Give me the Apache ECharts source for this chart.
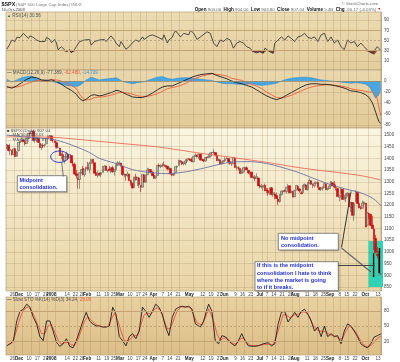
<!DOCTYPE html>
<html><head><meta charset="utf-8">
<script src="https://cdn.jsdelivr.net/npm/echarts/dist/echarts.min.js"></script>
<style>html,body{margin:0;padding:0;background:#fff}#c{width:400px;height:362px}</style>
</head><body><div id="c"></div><script>
// ---------- DATA ----------
const monthDays = [
 ['2007-11',[16,19,20,21,23,26,27,28,29,30]],
 ['2007-12',[3,4,5,6,7,10,11,12,13,14,17,18,19,20,21,24,26,27,28,31]],
 ['2008-01',[2,3,4,7,8,9,10,11,14,15,16,17,18,22,23,24,25,28,29,30,31]],
 ['2008-02',[1,4,5,6,7,8,11,12,13,14,15,19,20,21,22,25,26,27,28,29]],
 ['2008-03',[3,4,5,6,7,10,11,12,13,14,17,18,19,20,24,25,26,27,28,31]],
 ['2008-04',[1,2,3,4,7,8,9,10,11,14,15,16,17,18,21,22,23,24,25,28,29,30]],
 ['2008-05',[1,2,5,6,7,8,9,12,13,14,15,16,19,20,21,22,23,27,28,29,30]],
 ['2008-06',[2,3,4,5,6,9,10,11,12,13,16,17,18,19,20,23,24,25,26,27,30]],
 ['2008-07',[1,2,3,7,8,9,10,11,14,15,16,17,18,21,22,23,24,25,28,29,30,31]],
 ['2008-08',[1,4,5,6,7,8,11,12,13,14,15,18,19,20,21,22,25,26,27,28,29]],
 ['2008-09',[2,3,4,5,8,9,10,11,12,15,16,17,18,19,22,23,24,25,26,29,30]],
 ['2008-10',[1,2,3,6,7,8,9,10]]
];
const xTicks = [['2007-11-26','26'],['2007-12-03','Dec'],['2007-12-10','10'],['2007-12-17','17'],['2007-12-24','24'],['2008-01-02','2008'],['2008-01-14','14'],['2008-01-22','22'],['2008-01-28','28'],['2008-02-01','Feb'],['2008-02-11','11'],['2008-02-19','19'],['2008-02-25','25'],['2008-03-03','Mar'],['2008-03-10','10'],['2008-03-17','17'],['2008-03-24','24'],['2008-04-01','Apr'],['2008-04-07','7'],['2008-04-14','14'],['2008-04-21','21'],['2008-05-01','May'],['2008-05-12','12'],['2008-05-19','19'],['2008-05-27','27'],['2008-06-02','Jun'],['2008-06-09','9'],['2008-06-16','16'],['2008-06-23','23'],['2008-07-01','Jul'],['2008-07-07','7'],['2008-07-14','14'],['2008-07-21','21'],['2008-07-28','28'],['2008-08-01','Aug'],['2008-08-11','11'],['2008-08-18','18'],['2008-08-25','25'],['2008-09-02','Sep'],['2008-09-08','8'],['2008-09-15','15'],['2008-09-22','22'],['2008-10-01','Oct'],['2008-10-10','13']];

// [open, close, low, high]
const ohlc = [
[1451,1458.7,1439,1462],[1456,1433.3,1430,1456],[1434,1439.7,1415,1463],[1435,1416.8,1412,1436],[1417,1440.7,1417,1441],[1441,1407.2,1406,1446],[1409,1428.2,1407,1431],[1433,1469.0,1430,1470],[1467,1469.7,1458,1474],[1471,1481.1,1470,1488],
[1479,1472.4,1469,1482],[1471,1462.8,1455,1471],[1463,1485.0,1463,1486],[1485,1507.3,1483,1508],[1508,1504.7,1500,1511],[1505,1516.0,1505,1518],[1516,1477.7,1472,1523],[1478,1486.6,1467,1511],[1483,1488.4,1469,1489],[1486,1468.0,1467,1487],[1465,1445.9,1445,1465],[1446,1455.0,1435,1461],[1455,1453.0,1445,1464],[1456,1460.1,1447,1461],[1463,1484.5,1463,1485],[1485,1496.5,1485,1497],[1495,1497.7,1488,1499],[1496,1476.3,1476,1499],[1479,1478.5,1467,1488],[1475,1468.4,1465,1475],
[1467,1447.2,1442,1472],[1447,1447.2,1443,1456],[1444,1411.6,1411,1444],[1415,1416.2,1396,1424],[1416,1390.2,1389,1431],[1390,1409.1,1378,1409],[1406,1420.3,1398,1429],[1419,1401.0,1392,1419],[1402,1416.3,1402,1418],[1412,1381.0,1380,1412],[1377,1373.2,1364,1391],[1374,1333.3,1330,1382],[1334,1325.2,1313,1351],[1312,1310.5,1271,1322],[1310,1338.6,1270,1339],[1340,1352.1,1333,1355],[1357,1330.6,1327,1368],[1331,1354.0,1322,1354],[1355,1362.3,1350,1365],[1362,1355.8,1348,1385],[1352,1378.6,1335,1385],
[1378,1395.4,1378,1396],[1396,1380.8,1379,1396],[1381,1336.6,1336,1381],[1339,1326.5,1325,1351],[1326,1336.9,1317,1347],[1336,1331.3,1325,1341],[1331,1339.1,1320,1341],[1340,1348.9,1339,1368],[1350,1367.2,1350,1370],[1367,1348.9,1347,1369],[1347,1350.0,1339,1351],[1355,1348.8,1344,1368],[1348,1360.0,1336,1363],[1360,1342.5,1339,1368],[1343,1353.1,1326,1354],[1353,1371.8,1350,1374],[1371,1381.3,1368,1388],[1377,1380.0,1370,1388],[1380,1367.7,1365,1380],[1367,1330.6,1326,1367],
[1330,1331.3,1320,1336],[1331,1326.8,1305,1331],[1327,1333.7,1318,1344],[1333,1304.3,1303,1333],[1304,1293.4,1283,1309],[1294,1273.4,1272,1296],[1275,1320.7,1275,1321],[1321,1308.8,1305,1334],[1308,1315.5,1282,1321],[1316,1288.1,1274,1321],[1283,1276.6,1256,1287],[1277,1330.7,1277,1331],[1330,1298.4,1298,1331],[1299,1329.5,1295,1330],[1330,1349.9,1330,1360],[1350,1353.0,1341,1358],[1352,1341.1,1336,1352],[1341,1325.8,1325,1345],[1327,1315.2,1312,1334],[1316,1322.7,1312,1328],
[1327,1370.2,1327,1370],[1370,1367.5,1362,1378],[1365,1369.3,1358,1375],[1369,1370.4,1362,1380],[1373,1372.5,1370,1386],[1370,1365.5,1360,1370],[1365,1354.5,1349,1368],[1355,1360.6,1350,1367],[1357,1332.8,1332,1357],[1332,1328.3,1324,1335],[1328,1334.4,1324,1337],[1338,1364.7,1338,1365],[1363,1365.6,1359,1369],[1369,1390.3,1369,1395],[1389,1388.2,1381,1390],[1386,1375.9,1371,1386],[1376,1379.9,1370,1387],[1380,1388.8,1371,1397],[1388,1397.8,1380,1398],[1398,1396.4,1394,1402],[1396,1390.9,1387,1397],[1391,1385.6,1384,1404],
[1386,1409.3,1383,1410],[1410,1413.9,1406,1422],[1414,1407.5,1404,1415],[1406,1418.3,1397,1421],[1418,1392.6,1391,1420],[1393,1397.7,1391,1404],[1395,1388.3,1384,1395],[1389,1403.6,1386,1404],[1404,1403.0,1396,1407],[1404,1408.7,1403,1420],[1409,1423.6,1404,1424],[1424,1425.4,1418,1426],[1425,1426.6,1419,1440],[1425,1413.4,1408,1425],[1414,1390.7,1388,1420],[1391,1394.4,1388,1401],[1394,1375.9,1373,1394],[1376,1385.4,1374,1387],[1386,1390.8,1381,1392],[1390,1398.3,1388,1405],[1399,1400.4,1396,1404],
[1399,1385.7,1377,1400],[1386,1377.7,1373,1394],[1377,1377.2,1367,1386],[1377,1404.1,1377,1405],[1401,1360.7,1359,1401],[1361,1361.8,1350,1370],[1359,1358.4,1348,1366],[1357,1335.5,1334,1358],[1336,1339.9,1334,1353],[1341,1360.0,1341,1361],[1358,1360.1,1349,1364],[1360,1350.9,1350,1366],[1349,1337.8,1333,1349],[1336,1342.8,1327,1347],[1341,1317.9,1316,1341],[1318,1318.0,1312,1326],[1317,1314.3,1304,1328],[1315,1322.0,1313,1336],[1316,1283.2,1283,1316],[1283,1278.4,1272,1288],[1279,1280.0,1272,1290],
[1276,1284.9,1262,1285],[1285,1261.5,1261,1292],[1263,1262.9,1252,1272],[1263,1252.3,1240,1273],[1251,1273.7,1245,1275],[1274,1244.7,1244,1278],[1245,1253.4,1236,1257],[1248,1239.5,1225,1255],[1241,1228.3,1227,1254],[1226,1214.9,1200,1235],[1215,1245.4,1211,1246],[1246,1260.3,1240,1262],[1258,1260.7,1251,1263],[1261,1260.0,1255,1267],[1257,1277.0,1250,1278],[1278,1282.2,1271,1291],[1283,1252.5,1251,1283],[1253,1257.8,1252,1263],[1258,1234.4,1234,1260],[1236,1263.2,1234,1263],[1264,1284.3,1264,1285],[1280,1267.4,1267,1284],
[1269,1260.3,1254,1271],[1253,1249.0,1247,1260],[1254,1284.9,1254,1285],[1283,1289.2,1275,1292],[1286,1266.1,1264,1286],[1266,1296.3,1262,1297],[1294,1305.3,1290,1314],[1304,1289.6,1286,1304],[1288,1285.8,1274,1293],[1283,1292.9,1276,1301],[1293,1298.2,1292,1301],[1298,1278.6,1274,1301],[1276,1266.7,1263,1276],[1268,1274.5,1261,1277],[1271,1277.7,1262,1280],[1277,1292.2,1277,1294],[1290,1266.8,1264,1290],[1267,1271.5,1262,1275],[1271,1281.7,1270,1289],[1283,1300.7,1283,1301],[1296,1282.8,1282,1297],
[1287,1277.6,1272,1303],[1276,1275.0,1262,1281],[1271,1236.8,1236,1272],[1233,1242.3,1217,1244],[1250,1267.8,1250,1275],[1268,1224.5,1224,1268],[1228,1232.0,1220,1244],[1230,1249.1,1213,1249],[1245,1251.7,1236,1255],[1250,1192.7,1192,1250],[1188,1213.6,1170,1214],[1211,1156.4,1156,1211],[1157,1206.5,1133,1211],[1214,1255.1,1214,1265],[1255,1207.1,1207,1255],[1207,1188.2,1187,1214],[1189,1185.9,1180,1197],[1187,1209.2,1187,1220],[1204,1213.3,1197,1216],[1209,1106.4,1106,1209],[1114,1166.4,1114,1171],
[1164,1161.1,1141,1167],[1161,1114.3,1111,1161],[1115,1099.2,1098,1154],[1098,1056.9,1008,1098],[1058,996.2,996,1073],[989,984.9,971,1021],[988,909.9,909,1005],[904,907.04,903.8,908]
];

// moving averages, read at points [dayIndex, value]
const ma50 = [[0,1500],[10,1492],[20,1487],[30,1478],[40,1455],[50,1425],[56,1400],[65,1380],[76,1352],[86,1340],[96,1335],[106,1340],[117,1355],[127,1372],[137,1385],[147,1386],[157,1378],[167,1360],[177,1338],[187,1310],[197,1285],[207,1265],[213,1255],[219,1238],[223,1220],[226,1198]];
const ma200 = [[0,1492],[15,1492],[30,1489],[45,1480],[60,1470],[75,1460],[90,1450],[105,1435],[117,1422],[130,1410],[140,1400],[157,1383],[177,1360],[190,1348],[200,1340],[215,1325],[226,1308]];

const rsi = [[0,33],[2,44],[3,51],[5,48],[6,56],[8,56],[10,64],[11,61],[13,54],[14,59],[16,56],[18,51],[20,48],[21,51],[23,48],[24,56],[26,52],[27,46],[29,52],[30,45],[31,32],[33,38],[34,35],[36,28],[38,32],[39,26],[41,33],[42,38],[44,48],[45,45],[47,51],[48,54],[50,52],[51,41],[53,48],[54,46],[56,51],[57,50],[59,52],[60,48],[61,51],[63,59],[65,51],[66,45],[68,38],[69,48],[70,51],[72,33],[73,31],[74,38],[76,46],[78,51],[80,48],[82,57],[83,52],[84,54],[86,59],[88,61],[89,64],[91,57],[92,59],[94,52],[95,61],[97,45],[98,51],[100,56],[101,64],[102,69],[104,61],[105,57],[107,64],[108,67],[110,61],[111,70],[113,64],[115,52],[117,57],[121,67],[123,64],[125,45],[127,38],[129,51],[131,48],[133,54],[135,51],[137,35],[139,45],[141,48],[143,45],[145,38],[147,35],[149,28],[151,26],[153,28],[155,25],[156,35],[157,32],[159,28],[161,25],[162,45],[164,51],[166,57],[168,51],[170,59],[172,54],[174,48],[176,57],[178,59],[180,64],[182,56],[184,54],[186,57],[188,48],[190,61],[192,64],[194,48],[196,57],[198,45],[200,51],[202,38],[204,32],[206,51],[208,45],[210,48],[212,38],[214,45],[216,38],[219,28],[221,25],[222,22],[224,38],[226,30.56]];

const macd = [[0,-10],[3,-13],[6,-9],[9,-3],[12,3],[15,7],[18,6],[21,2],[24,1],[27,2],[30,-1],[33,-6],[36,-12],[39,-17],[42,-24],[44,-32],[46,-36],[48,-33],[51,-26],[53,-25],[56,-27],[58,-26],[61,-23],[64,-20],[66,-17],[68,-18],[70,-21],[73,-25],[76,-29],[79,-30],[82,-30],[85,-27],[88,-22],[91,-16],[94,-11],[97,-9],[100,-9],[103,-5],[106,-1],[109,3],[112,7],[115,10],[118,12],[121,13],[124,14],[127,10],[130,7],[133,4],[136,0],[139,-3],[142,-5],[145,-8],[148,-11],[151,-16],[154,-22],[157,-27],[160,-31],[163,-34],[166,-31],[169,-26],[172,-21],[175,-16],[178,-11],[181,-7],[184,-5],[187,-5],[190,-6],[193,-6],[196,-7],[199,-9],[202,-11],[205,-14],[208,-18],[211,-19],[214,-21],[217,-25],[219,-30],[220,-35],[221,-40],[222,-48],[223,-57],[224,-66],[225,-74],[226,-77.389]];
const macdSignal = [[0,-12],[3,-11],[6,-11],[9,-9],[12,-5],[15,-2],[18,1],[21,1],[24,-1],[27,3],[30,2],[33,0],[36,-4],[39,-8],[42,-14],[44,-24],[46,-32],[48,-35],[51,-33],[53,-30],[56,-29],[58,-29],[61,-27],[64,-25],[66,-23],[68,-21],[70,-20],[73,-22],[76,-24],[79,-27],[82,-28],[85,-28],[88,-26],[91,-23],[94,-19],[97,-14],[100,-12],[103,-10],[106,-7],[109,-3],[112,2],[115,6],[118,9],[121,11],[124,13],[127,12],[130,11],[133,9],[136,5],[139,3],[142,1],[145,-2],[148,-6],[151,-9],[154,-14],[157,-20],[160,-25],[163,-30],[166,-31],[169,-29],[172,-26],[175,-22],[178,-18],[181,-14],[184,-11],[187,-9],[190,-8],[193,-7],[196,-7],[199,-8],[202,-9],[205,-11],[208,-14],[211,-16],[214,-17],[217,-19],[219,-20],[220,-20],[221,-20],[222,-22],[223,-26],[224,-33],[225,-49],[226,-62.48]];
const macdHist = [[0,3],[3,-2],[6,2],[9,6],[12,8],[15,9],[18,5],[21,1],[24,2],[27,-1],[30,-3],[33,-6],[36,-8],[39,-9],[42,-10],[44,-8],[46,-4],[48,2],[51,7],[53,5],[56,2],[58,3],[61,4],[64,5],[66,6],[68,3],[70,-1],[73,-3],[76,-5],[79,-3],[82,-2],[85,1],[88,4],[91,7],[94,8],[97,5],[100,3],[103,5],[106,6],[109,6],[112,5],[115,4],[118,3],[121,2],[124,1],[127,-2],[130,-4],[133,-5],[136,-5],[139,-6],[142,-6],[145,-6],[148,-5],[151,-7],[154,-8],[157,-7],[160,-6],[163,-4],[166,0],[169,3],[172,5],[175,6],[178,7],[181,7],[184,6],[187,4],[190,2],[193,1],[196,0],[199,-1],[202,-2],[205,-3],[208,-4],[211,-3],[214,-4],[217,-6],[219,-10],[220,-15],[221,-20],[222,-26],[223,-31],[224,-33],[225,-25],[226,-14.709]];

const stoK = [[0,11],[2,15],[4,21],[6,60],[8,79],[10,83],[12,93],[14,87],[16,67],[18,54],[20,29],[22,21],[24,60],[26,60],[28,40],[30,18],[32,10],[34,15],[36,25],[38,10],[40,7],[42,21],[44,40],[46,60],[48,77],[50,60],[52,54],[54,50],[56,50],[58,48],[60,48],[62,50],[64,87],[66,73],[68,29],[70,21],[72,11],[74,29],[76,35],[78,25],[80,40],[82,87],[84,79],[86,67],[88,79],[90,93],[92,87],[94,73],[96,48],[98,31],[100,67],[102,83],[104,87],[106,89],[108,87],[110,89],[112,83],[114,54],[117,48],[119,60],[121,83],[122,93],[124,79],[126,21],[128,15],[130,31],[132,29],[134,21],[136,15],[138,11],[140,21],[142,35],[144,21],[146,11],[149,10],[152,11],[155,15],[158,17],[160,11],[162,15],[164,54],[166,77],[168,79],[170,58],[172,67],[174,77],[176,67],[178,79],[180,83],[182,73],[184,60],[186,40],[188,48],[190,29],[192,50],[194,29],[196,35],[198,29],[200,31],[202,15],[204,40],[206,54],[208,50],[210,40],[212,29],[214,15],[216,10],[218,7],[220,15],[222,28],[224,31],[226,34.24]];
const stoD = [[1,14],[3,16],[5,32],[7,55],[9,74],[11,85],[13,88],[15,80],[17,66],[19,50],[21,35],[23,35],[25,50],[27,53],[29,38],[31,22],[33,14],[35,17],[37,18],[39,13],[41,12],[43,23],[45,42],[47,60],[49,68],[51,62],[53,55],[55,51],[57,49],[59,48],[61,49],[63,62],[65,75],[67,62],[69,40],[71,22],[73,19],[75,26],[77,31],[79,32],[81,52],[83,72],[85,76],[87,73],[89,82],[91,86],[93,80],[95,62],[97,44],[99,46],[101,63],[103,80],[105,87],[107,88],[109,88],[111,86],[113,72],[115,56],[118,52],[120,66],[122,84],[123,85],[125,60],[127,35],[129,22],[131,26],[133,27],[135,20],[137,15],[139,15],[141,24],[143,27],[145,18],[147,12],[150,11],[153,12],[156,14],[159,14],[161,13],[163,30],[165,50],[167,72],[169,72],[171,66],[173,70],[175,73],[177,74],[179,78],[181,77],[183,68],[185,52],[187,44],[189,40],[191,40],[193,38],[195,33],[197,31],[199,30],[201,24],[203,26],[205,40],[207,50],[209,46],[211,38],[213,26],[215,16],[217,10],[219,9],[221,14],[223,22],[225,28],[226,29.08]];

const priceTicks = [850,900,950,1000,1050,1100,1150,1200,1250,1300,1350,1400,1450,1500];
const rsiTicks = [10,30,50,70,90];
const macdTicks = [0,-20,-40,-60,-80];
const stoTicks = [20,50,80];

// ---------- CHART ----------
const FONT = '"Liberation Sans", Arial, sans-serif';
const categories = [];
monthDays.forEach(([m, ds]) => ds.forEach(d => categories.push(m + '-' + String(d).padStart(2, '0'))));
const tickMap = {}; xTicks.forEach(([d, t]) => { tickMap[d] = t; });
const tickIdx = new Set(xTicks.map(([d]) => categories.indexOf(d)));
const isBold = t => /^[A-Z]/.test(t) || /^\d{4}$/.test(t);

const L = 6, R = 18.5;
const grids = [
  {left: L, right: R, top: 12, height: 58},
  {left: L, right: R, top: 70, height: 58},
  {left: L, right: R, top: 128, height: 163},
  {left: L, right: R, top: 297, height: 58}
];
function xAxisFor(gi, showLabels) {
  return {
    type: 'category', gridIndex: gi, data: categories, boundaryGap: true,
    axisLine: {show: false}, axisTick: {show: false},
    splitLine: {show: true, interval: (i) => tickIdx.has(i), lineStyle: {color: 'rgba(140,110,60,0.3)', width: 0.7}},
    axisLabel: showLabels ? {
      show: true, interval: (i) => tickIdx.has(i), align: 'right', margin: 1.5,
      fontSize: 4.6, color: '#444', fontFamily: FONT,
      formatter: (v) => { const t = tickMap[v] || ''; return isBold(t) ? '{b|' + t + '}' : t; },
      rich: {b: {fontWeight: 'bold', fontSize: 4.6, color: '#222', fontFamily: FONT}}
    } : {show: false}
  };
}
function yAxisFor(gi, min, max, vals) {
  return {
    type: 'value', gridIndex: gi, position: 'right', min, max,
    axisLine: {show: false}, axisTick: {show: false}, splitLine: {show: false},
    axisLabel: {customValues: vals, formatter: (v) => String(v), fontSize: 4.6, color: '#444', margin: 2.5, fontFamily: FONT}
  };
}
function hl(vals, style) { return vals.map(v => ({yAxis: v, lineStyle: style})); }
function ml(data) { return {silent: true, symbol: ['none', 'none'], animation: false, label: {show: false}, data}; }

const gridLine = {color: 'rgba(140,110,60,0.28)', width: 0.7, type: 'solid'};
const strongLine = {color: '#c4a474', width: 1, type: 'solid'};
const dashLine = {color: '#9c8a6a', width: 0.6, type: [2, 2]};

const rsiBase = rsi.map(([i, v]) => [i, Math.min(v, 30)]);
const rsiDip = rsi.map(([i, v]) => [i, 30 - Math.min(v, 30)]);

function panelBg(y, h, c1, c2) {
  return {type: 'rect', z: -10, shape: {x: L, y: y, width: 400 - L - R, height: h},
    style: {fill: new echarts.graphic.LinearGradient(0, 0, 0, 1, [{offset: 0, color: c1}, {offset: 1, color: c2}]), stroke: '#b3a283', lineWidth: 0.7}};
}
function txt(x, y, text, opts, z) {
  return {type: 'text', z: z || 60, x, y, style: Object.assign({text, fontSize: 4.6, fill: '#555', fontFamily: FONT, textVerticalAlign: 'middle'}, opts || {})};
}
function line(x1, y1, x2, y2, color, w) {
  return {type: 'line', z: 80, shape: {x1, y1, x2, y2}, style: {stroke: color, lineWidth: w}};
}
function box(x, y, w, h) {
  return [
    {type: 'rect', z: 78, shape: {x: x + 1.2, y: y + 1.2, width: w, height: h}, style: {fill: 'rgba(90,80,60,0.35)'}},
    {type: 'rect', z: 79, shape: {x, y, width: w, height: h}, style: {fill: '#ffffff', stroke: '#6a6a6a', lineWidth: 0.8}}
  ];
}
const blueTxt = {fill: '#2330c8', fontSize: 5.6, fontWeight: 'bold', textVerticalAlign: 'middle'};
const note = (x, y, t) => txt(x, y, t, blueTxt, 95);

const graphics = [
  panelBg(12, 58, '#ecdcb4', '#e4cd9d'),
  panelBg(70, 58, '#ead8ae', '#e3cb99'),
  panelBg(128, 163, '#faf5e1', '#e9d4a5'),
  panelBg(297, 58, '#e9d1a2', '#dcbe88'),
  // header
  txt(1.5, 4.5, '$SPX', {fontSize: 5.4, fontWeight: 'bold', fill: '#111'}),
  txt(16, 4.5, '(S&P 500 Large Cap Index) INDX', {fontSize: 4.4, fill: '#777'}),
  txt(1.5, 10, '10-Oct-2008', {fontSize: 4.2, fill: '#444'}),
  txt(378, 3.5, '\u00a9 StockCharts.com', {fontSize: 4.2, fill: '#666', align: 'right'}),
  txt(381, 9.3, '{k|Open} 904.00  {k|High} 904.00  {k|Low} 903.80  {k|Close} 907.04  {k|Volume} 5.4B  {k|Chg} -60.17 (-6.03%) {r|\u25BC}',
    {fontSize: 4.4, fill: '#666', align: 'right', rich: {k: {fontWeight: 'bold', fill: '#111', fontSize: 4.6, fontFamily: FONT}, r: {fill: '#d00', fontSize: 3.5}}}),
  // panel legends
  txt(7, 15.5, '{g|\u25B2} RSI(14) 30.56', {fontSize: 4.6, fill: '#555', rich: {g: {fill: '#2c7a2c', fontSize: 4}}}),
  txt(7, 72.8, '{k|\u2014} MACD(12,26,9) -77.389, {r|-62.480}, {b|-14.709}', {fontSize: 4.6, fill: '#555', rich: {k: {fill: '#222'}, r: {fill: '#f05a3c'}, b: {fill: '#3c8fd0'}}}),
  txt(7, 130.5, '{k|\u25A0} $SPX (Daily) 907.04', {fontSize: 4.4, fill: '#555', rich: {k: {fill: '#444', fontSize: 4}}}),
  txt(7, 135, '{k|\u2014} MA(50) 1198.07', {fontSize: 4.4, fill: '#555', rich: {k: {fill: '#6670a8'}}}),
  txt(7, 139.5, '{k|\u2014} MA(200) 1307.87', {fontSize: 4.4, fill: '#555', rich: {k: {fill: '#f06050'}}}),
  txt(7, 300, '{k|\u2014} Slow STO %K(14) %D(3) 34.24, {r|29.08}', {fontSize: 4.6, fill: '#555', rich: {k: {fill: '#222'}, r: {fill: '#f05a3c'}}}),
  // cyan highlight
  {type: 'rect', z: 1, shape: {x: 368.5, y: 241, width: 14.5, height: 46}, style: {fill: '#2fd3b3'}},
  line(373.6, 253, 373.6, 277, '#111', 1.4),
  line(379.5, 248, 379.5, 273, '#111', 1.4),
  // ellipse annotation
  {type: 'ellipse', z: 80, shape: {cx: 59.5, cy: 156.7, rx: 8.8, ry: 5.7}, style: {fill: 'none', stroke: '#2338d0', lineWidth: 1}},
  line(61.7, 162.3, 63.3, 176.5, '#555', 0.8),
  ...box(17.3, 175.7, 49.4, 16),
  note(19.5, 180.3, 'Midpoint'),
  note(19.5, 187.3, 'consolidation.'),
  // pointer lines on the right
  line(341.5, 247.5, 351, 191.5, '#333', 1),
  line(341.5, 248, 371, 272, '#666', 1.2),
  line(338, 265.5, 375, 265.5, '#444', 1),
  ...box(278.3, 233.3, 60, 16.7),
  note(281, 238.4, 'No midpoint'),
  note(281, 245.3, 'consolidation.'),
  ...box(255, 261.7, 83.3, 29),
  note(257, 265.8, 'If this is the midpoint'),
  note(257, 273, 'consolidation I hate to think'),
  note(257, 280.2, 'where the market is going'),
  note(257, 287.3, 'to if it breaks.')
];

const option = {
  animation: false,
  backgroundColor: '#ffffff',
  grid: grids,
  xAxis: [xAxisFor(0, false), xAxisFor(1, false), xAxisFor(2, true), xAxisFor(3, true)],
  yAxis: [
    yAxisFor(0, -7.56, 105.6, rsiTicks),
    yAxisFor(1, -85.45, 20, macdTicks),
    yAxisFor(2, 832.9, 1529.9, priceTicks),
    yAxisFor(3, -7.1, 107.1, stoTicks)
  ],
  series: [
    {type: 'line', xAxisIndex: 0, yAxisIndex: 0, data: rsiBase, stack: 'dip', symbol: 'none', lineStyle: {opacity: 0}, silent: true},
    {type: 'line', xAxisIndex: 0, yAxisIndex: 0, data: rsiDip, stack: 'dip', symbol: 'none', lineStyle: {opacity: 0}, areaStyle: {color: '#8a4b37', opacity: 1}, silent: true},
    {type: 'line', xAxisIndex: 0, yAxisIndex: 0, data: rsi, symbol: 'none', lineStyle: {color: '#2a2a2a', width: 0.8},
      markLine: ml([...hl([70, 30], strongLine), ...hl([50], dashLine), ...hl([10, 90], gridLine)])},
    {type: 'line', xAxisIndex: 1, yAxisIndex: 1, data: macdHist, symbol: 'none', lineStyle: {color: '#2c86c8', width: 0.5}, areaStyle: {color: '#49a6e0', opacity: 1},
      markLine: ml([...hl([0], {color: '#a08a66', width: 0.8, type: 'solid'}), ...hl([-20, -40, -60, -80], gridLine)])},
    {type: 'line', xAxisIndex: 1, yAxisIndex: 1, data: macdSignal, symbol: 'none', lineStyle: {color: '#f2603f', width: 0.9}},
    {type: 'line', xAxisIndex: 1, yAxisIndex: 1, data: macd, symbol: 'none', lineStyle: {color: '#1e1e1e', width: 0.9}},
    {type: 'candlestick', xAxisIndex: 2, yAxisIndex: 2, data: ohlc, barWidth: 2,
      itemStyle: {color: '#b9b9a8', color0: '#e3000f', borderColor: '#5a5a52', borderColor0: '#c80000', borderWidth: 0.6},
      markLine: ml(hl(priceTicks, gridLine))},
    {type: 'line', xAxisIndex: 2, yAxisIndex: 2, data: ma200, symbol: 'none', smooth: 0.3, lineStyle: {color: '#f26a58', width: 0.9}},
    {type: 'line', xAxisIndex: 2, yAxisIndex: 2, data: ma50, symbol: 'none', smooth: 0.3, lineStyle: {color: '#6a72a6', width: 0.9}},
    {type: 'line', xAxisIndex: 3, yAxisIndex: 3, data: stoD, symbol: 'none', lineStyle: {color: '#f2503a', width: 0.9},
      markLine: ml([...hl([80, 20], strongLine), ...hl([50], dashLine)])},
    {type: 'line', xAxisIndex: 3, yAxisIndex: 3, data: stoK, symbol: 'none', lineStyle: {color: '#1e1e1e', width: 0.9}}
  ],
  graphic: {elements: graphics}
};
const chart = echarts.init(document.getElementById('c'), null, {renderer: 'canvas'});
chart.setOption(option);
</script></body></html>
